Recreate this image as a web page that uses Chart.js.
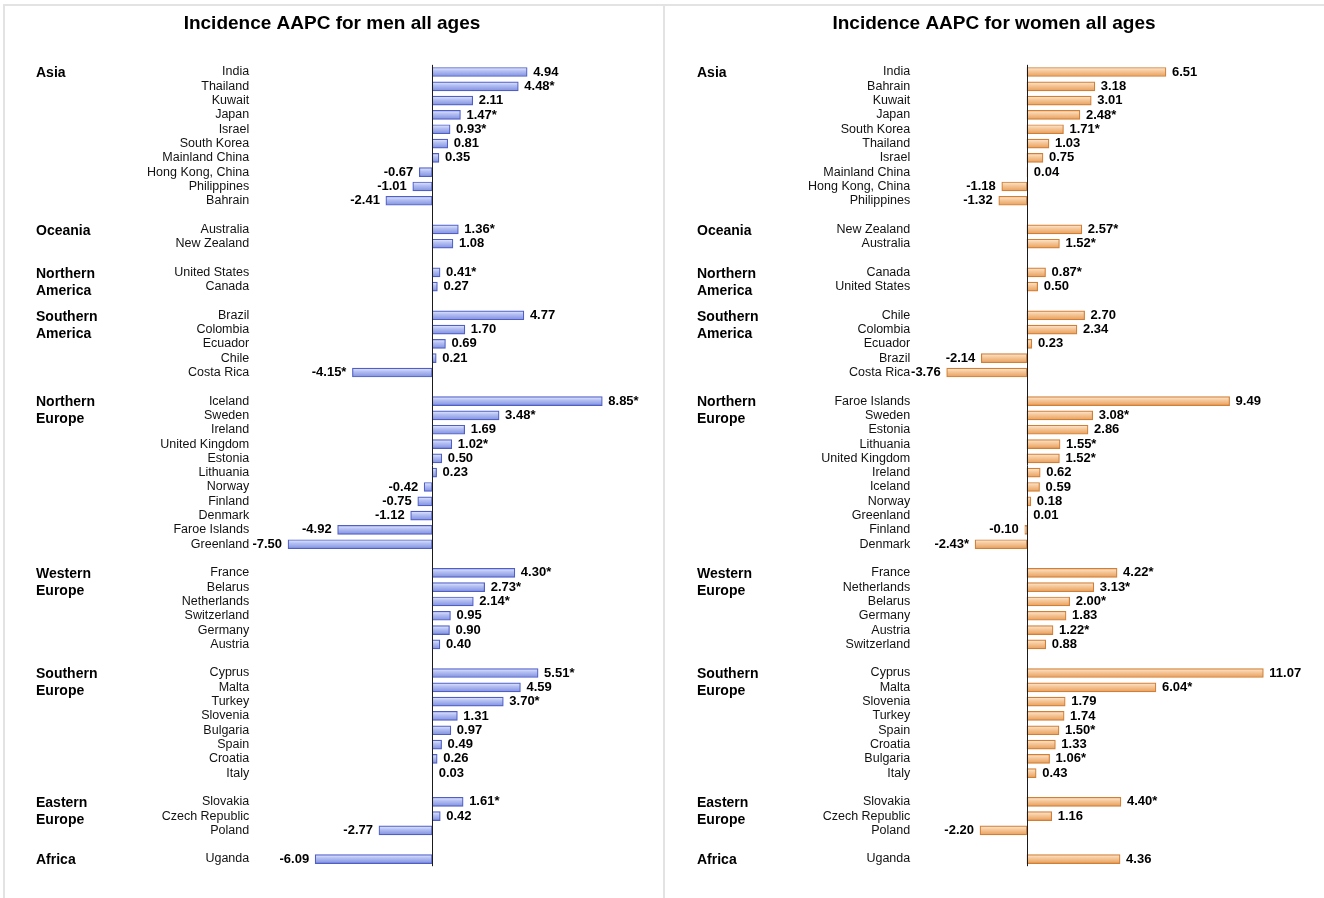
<!DOCTYPE html>
<html>
<head>
<meta charset="utf-8">
<title>Incidence AAPC</title>
<script src="https://cdn.jsdelivr.net/npm/chart.js@4.4.1/dist/chart.umd.min.js"></script>
<style>
  html, body { margin: 0; padding: 0; background: #fff; width: 1324px; height: 898px; overflow: hidden; }
  .frame { position: absolute; left: 3px; top: 4px; width: 1330px; height: 900px;
           border-top: 2px solid #e3e3e3; border-left: 2px solid #e3e3e3; }
  .divider { position: absolute; left: 663px; top: 4px; width: 2px; height: 894px; background: #e3e3e3; }
  canvas { position: absolute; top: 0; }
  #men { left: 0; }
  #women { left: 664px; }
</style>
</head>
<body>
<div class="frame"></div>
<div class="divider"></div>
<canvas id="men" width="664" height="898"></canvas>
<canvas id="women" width="660" height="898"></canvas>
<script>
// Regions, in display order, and how many countries each holds
const regionNames = [
  ['Asia'], ['Oceania'], ['Northern', 'America'], ['Southern', 'America'],
  ['Northern', 'Europe'], ['Western', 'Europe'], ['Southern', 'Europe'],
  ['Eastern', 'Europe'], ['Africa']
];
const regionSizes = [10, 2, 2, 5, 11, 6, 8, 3, 1];

// Men, all ages
const menCountries = [
  'India', 'Thailand', 'Kuwait', 'Japan', 'Israel', 'South Korea', 'Mainland China', 'Hong Kong, China', 'Philippines', 'Bahrain',
  'Australia', 'New Zealand',
  'United States', 'Canada',
  'Brazil', 'Colombia', 'Ecuador', 'Chile', 'Costa Rica',
  'Iceland', 'Sweden', 'Ireland', 'United Kingdom', 'Estonia', 'Lithuania', 'Norway', 'Finland', 'Denmark', 'Faroe Islands', 'Greenland',
  'France', 'Belarus', 'Netherlands', 'Switzerland', 'Germany', 'Austria',
  'Cyprus', 'Malta', 'Turkey', 'Slovenia', 'Bulgaria', 'Spain', 'Croatia', 'Italy',
  'Slovakia', 'Czech Republic', 'Poland',
  'Uganda'
];
const menAAPC = [
  4.94, 4.48, 2.11, 1.47, 0.93, 0.81, 0.35, -0.67, -1.01, -2.41,
  1.36, 1.08,
  0.41, 0.27,
  4.77, 1.70, 0.69, 0.21, -4.15,
  8.85, 3.48, 1.69, 1.02, 0.50, 0.23, -0.42, -0.75, -1.12, -4.92, -7.50,
  4.30, 2.73, 2.14, 0.95, 0.90, 0.40,
  5.51, 4.59, 3.70, 1.31, 0.97, 0.49, 0.26, 0.03,
  1.61, 0.42, -2.77,
  -6.09
];
const menSignificant = [
  0, 1, 0, 1, 1, 0, 0, 0, 0, 0,
  1, 0,
  1, 0,
  0, 0, 0, 0, 1,
  1, 1, 0, 1, 0, 0, 0, 0, 0, 0, 0,
  1, 1, 1, 0, 0, 0,
  1, 0, 1, 0, 0, 0, 0, 0,
  1, 0, 0,
  0
];

// Women, all ages
const womenCountries = [
  'India', 'Bahrain', 'Kuwait', 'Japan', 'South Korea', 'Thailand', 'Israel', 'Mainland China', 'Hong Kong, China', 'Philippines',
  'New Zealand', 'Australia',
  'Canada', 'United States',
  'Chile', 'Colombia', 'Ecuador', 'Brazil', 'Costa Rica',
  'Faroe Islands', 'Sweden', 'Estonia', 'Lithuania', 'United Kingdom', 'Ireland', 'Iceland', 'Norway', 'Greenland', 'Finland', 'Denmark',
  'France', 'Netherlands', 'Belarus', 'Germany', 'Austria', 'Switzerland',
  'Cyprus', 'Malta', 'Slovenia', 'Turkey', 'Spain', 'Croatia', 'Bulgaria', 'Italy',
  'Slovakia', 'Czech Republic', 'Poland',
  'Uganda'
];
const womenAAPC = [
  6.51, 3.18, 3.01, 2.48, 1.71, 1.03, 0.75, 0.04, -1.18, -1.32,
  2.57, 1.52,
  0.87, 0.50,
  2.70, 2.34, 0.23, -2.14, -3.76,
  9.49, 3.08, 2.86, 1.55, 1.52, 0.62, 0.59, 0.18, 0.01, -0.10, -2.43,
  4.22, 3.13, 2.00, 1.83, 1.22, 0.88,
  11.07, 6.04, 1.79, 1.74, 1.50, 1.33, 1.06, 0.43,
  4.40, 1.16, -2.20,
  4.36
];
const womenSignificant = [
  0, 0, 0, 1, 1, 0, 0, 0, 0, 0,
  1, 1,
  1, 0,
  0, 0, 0, 0, 0,
  0, 1, 0, 1, 1, 0, 0, 0, 0, 0, 1,
  1, 1, 1, 0, 1, 0,
  0, 1, 0, 0, 1, 0, 1, 0,
  1, 0, 0,
  0
];

const FONT = "'Liberation Sans', Arial, Helvetica, sans-serif";

// Lay countries out by region, with an empty row between regions
function buildRows(countries, values, flags) {
  const labels = [], data = [], stars = [], regionStart = [];
  let k = 0;
  regionSizes.forEach((n, r) => {
    if (r > 0) { labels.push(''); data.push(null); stars.push(0); }
    regionStart.push(labels.length);
    for (let i = 0; i < n; i++, k++) {
      labels.push(countries[k]);
      data.push(values[k]);
      stars.push(flags[k]);
    }
  });
  return { labels, data, stars, regionStart };
}

// Black zero line down the full plot height
const zeroLine = {
  id: 'zeroLine',
  afterDatasetsDraw(chart) {
    const { ctx, chartArea, scales } = chart;
    const x = Math.round(scales.x.getPixelForValue(0)) + 0.5;
    ctx.save();
    ctx.strokeStyle = '#1a1a1a';
    ctx.lineWidth = 1;
    ctx.beginPath();
    ctx.moveTo(x, chartArea.top);
    ctx.lineTo(x, chartArea.bottom);
    ctx.stroke();
    ctx.restore();
  }
};

// Bold value labels at the end of each bar, "*" marking significant trends
const valueLabels = {
  id: 'valueLabels',
  afterDatasetsDraw(chart, args, opts) {
    const { ctx } = chart;
    const meta = chart.getDatasetMeta(0);
    const values = chart.data.datasets[0].data;
    ctx.save();
    ctx.font = `bold 13px ${FONT}`;
    ctx.fillStyle = '#000';
    ctx.textBaseline = 'middle';
    meta.data.forEach((bar, i) => {
      const v = values[i];
      if (v === null || v === undefined) return;
      const text = v.toFixed(2) + (opts.stars[i] ? '*' : '');
      if (v >= 0) {
        ctx.textAlign = 'left';
        ctx.fillText(text, bar.x + 6, bar.y);
      } else {
        ctx.textAlign = 'right';
        ctx.fillText(text, bar.x - 6, bar.y);
      }
    });
    ctx.restore();
  }
};

// Region names in the left margin, aligned with each region's first row
const regionLabels = {
  id: 'regionLabels',
  afterDraw(chart, args, opts) {
    const { ctx, scales } = chart;
    ctx.save();
    ctx.font = `bold 14px ${FONT}`;
    ctx.fillStyle = '#000';
    ctx.textAlign = 'left';
    ctx.textBaseline = 'middle';
    regionNames.forEach((lines, r) => {
      const y = scales.y.getPixelForValue(opts.regionStart[r]);
      lines.forEach((line, j) => ctx.fillText(line, opts.x, y + 1.5 + j * 17));
    });
    ctx.restore();
  }
};

function barGradient(stops) {
  return (context) => {
    const chart = context.chart;
    if (!chart.chartArea || context.dataIndex === undefined) return stops[1];
    const y = chart.scales.y.getPixelForValue(context.dataIndex);
    const g = chart.ctx.createLinearGradient(0, y - 4.5, 0, y + 4.5);
    g.addColorStop(0, stops[0]);
    g.addColorStop(0.4, stops[1]);
    g.addColorStop(1, stops[2]);
    return g;
  };
}

function makeChart(id, title, countries, values, flags, xMin, xMax, axisWidth, regionX, fill, border) {
  const rows = buildRows(countries, values, flags);
  return new Chart(document.getElementById(id), {
    type: 'bar',
    data: {
      labels: rows.labels,
      datasets: [{
        data: rows.data,
        backgroundColor: barGradient(fill),
        borderColor: border,
        borderWidth: 1.2,
        borderSkipped: false,
        barThickness: 9
      }]
    },
    options: {
      indexAxis: 'y',
      responsive: false,
      animation: false,
      devicePixelRatio: 1,
      layout: { padding: { left: 0, right: 0, top: 0, bottom: 31.8 } },
      plugins: {
        legend: { display: false },
        tooltip: { enabled: false },
        title: {
          display: true,
          text: title,
          color: '#000',
          font: { family: FONT, size: 19, weight: 'bold' },
          padding: { top: 12, bottom: 30.05 }
        },
        valueLabels: { stars: rows.stars },
        regionLabels: { regionStart: rows.regionStart, x: regionX }
      },
      scales: {
        x: { display: false, min: xMin, max: xMax },
        y: {
          position: 'left',
          grid: { display: false },
          border: { display: false },
          ticks: {
            autoSkip: false,
            padding: 2,
            color: '#111',
            font: { family: FONT, size: 12.5 }
          },
          afterFit(scale) { scale.width = axisWidth; }
        }
      }
    },
    plugins: [zeroLine, valueLabels, regionLabels]
  });
}

makeChart('men', 'Incidence AAPC for men all ages',
  menCountries, menAAPC, menSignificant,
  -9, 12.06, 259.2, 36,
  ['#e4e9ff', '#b3bff3', '#8191df'], '#4f5fc6');

makeChart('women', 'Incidence AAPC for women all ages',
  womenCountries, womenAAPC, womenSignificant,
  -5, 13.91, 256.2, 33,
  ['#fde9d4', '#f6c89a', '#e89f5c'], '#d07f35');
</script>
</body>
</html>
